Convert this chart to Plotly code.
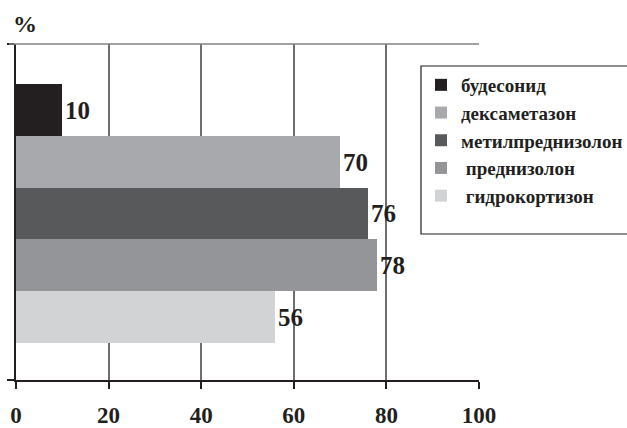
import plotly.graph_objects as go

series = ["будесонид", "дексаметазон", "метилпреднизолон", " преднизолон", " гидрокортизон"]
values = [10, 70, 76, 78, 56]
colors = ["#231f20", "#a7a9ac", "#58595b", "#939598", "#d1d3d4"]
x_ticks = [0, 20, 40, 60, 80, 100]

FONT = "Liberation Serif"

fig = go.Figure()
for i, (name, v, c) in enumerate(zip(series, values, colors)):
    fig.add_trace(go.Bar(
        y=[0], x=[v], name=name, orientation="h",
        marker=dict(color=c, line=dict(width=0)),
        text=[str(v)], textposition="outside", cliponaxis=False,
        textfont=dict(family=FONT, size=25, color="#231f20", weight="bold"),
        legendgroup=f"g{i}",
    ))

L, R, T, B = 16, 148, 44, 48
W, H = 627, 428
pw = W - L - R
ph = H - T - B

fig.update_layout(
    width=W, height=H,
    margin=dict(l=L, r=R, t=T, b=B, pad=0, autoexpand=False),
    paper_bgcolor="white", plot_bgcolor="white",
    barmode="group", bargap=0, bargroupgap=0,
    showlegend=True,
    legend=dict(
        x=(421 - L) / pw, y=(H - B - 66) / ph, xanchor="left", yanchor="top",
        bgcolor="rgba(0,0,0,0)", borderwidth=0,
        font=dict(family=FONT, size=19, color="#231f20", weight="bold"),
        tracegroupgap=5, traceorder="normal",
    ),
    xaxis=dict(
        range=[0, 100], tickvals=x_ticks, ticktext=[str(t) for t in x_ticks],
        showgrid=True, gridcolor="#6d6e71", gridwidth=1.5,
        zeroline=False, showline=True, linecolor="#231f20", linewidth=1.5,
        ticks="outside", ticklen=7, tickwidth=1.5, tickcolor="#231f20",
        ticklabelstandoff=7, automargin=False,
        tickfont=dict(family=FONT, size=23, color="#231f20", weight="bold"),
        fixedrange=True,
    ),
    yaxis=dict(
        range=[0.643, -0.655],
        tickvals=[0.643, -0.655], ticktext=["", ""],
        ticks="outside", ticklen=7, tickwidth=1.5, tickcolor="#231f20",
        showgrid=False, zeroline=False, automargin=False,
        showline=True, linecolor="#231f20", linewidth=1.5,
        fixedrange=True,
    ),
    shapes=[
        dict(type="line", xref="paper", yref="paper",
             x0=-7 / pw, x1=1.0, y0=1, y1=1,
             line=dict(color="#808285", width=1.5), layer="above"),
        dict(type="rect", xref="paper", yref="paper",
             x0=(421 - L) / pw, x1=(640 - L) / pw,
             y0=(H - B - 234) / ph, y1=(H - B - 66) / ph,
             fillcolor="white", line=dict(color="#231f20", width=1.2), layer="above"),
    ],
    annotations=[
        dict(text="%", xref="paper", yref="paper", x=(11 - L) / pw, y=(H - B - 9) / ph,
             xanchor="left", yanchor="top", showarrow=False,
             font=dict(family=FONT, size=24, color="#231f20", weight="bold")),
    ],
)

fig.write_html("out.html")
